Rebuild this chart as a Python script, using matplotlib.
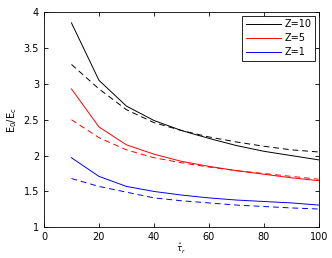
import numpy as np
import matplotlib.pyplot as plt

tau = [10, 20, 30, 40, 50, 60, 70, 80, 90, 100]

z10_solid = [3.85, 3.05, 2.69, 2.49, 2.35, 2.24, 2.14, 2.06, 2.00, 1.94]
z10_dash = [3.27, 2.93, 2.64, 2.46, 2.35, 2.26, 2.19, 2.13, 2.08, 2.05]
z5_solid = [2.93, 2.40, 2.15, 2.02, 1.92, 1.85, 1.79, 1.74, 1.69, 1.65]
z5_dash = [2.50, 2.25, 2.08, 1.97, 1.90, 1.84, 1.79, 1.75, 1.71, 1.67]
z1_solid = [1.97, 1.71, 1.57, 1.50, 1.45, 1.41, 1.38, 1.36, 1.34, 1.31]
z1_dash = [1.68, 1.57, 1.49, 1.41, 1.37, 1.34, 1.31, 1.29, 1.27, 1.255]

fig = plt.figure(figsize=(3.32, 2.58), dpi=100)
ax = fig.add_axes([0.1325, 0.119, 0.8275, 0.834])

ax.plot(tau, z10_solid, color='black', lw=0.7, label='Z=10')
ax.plot(tau, z5_solid, color='red', lw=0.7, label='Z=5')
ax.plot(tau, z1_solid, color='blue', lw=0.7, label='Z=1')
ax.plot(tau, z10_dash, color='black', lw=0.7, dashes=(6, 4))
ax.plot(tau, z5_dash, color='red', lw=0.7, dashes=(6, 4))
ax.plot(tau, z1_dash, color='blue', lw=0.7, dashes=(6, 4))

ax.set_xlim(0, 100)
ax.set_ylim(1, 4)
ax.set_xticks([0, 20, 40, 60, 80, 100])
ax.set_yticks([1, 1.5, 2, 2.5, 3, 3.5, 4])
ax.set_yticklabels(['1', '1.5', '2', '2.5', '3', '3.5', '4'])
ax.tick_params(direction='in', top=True, right=True, labelsize=7, length=3, width=0.6)
for s in ax.spines.values():
    s.set_linewidth(0.6)

ax.set_xlabel(r'$\hat{\tau}_r$', fontsize=6, labelpad=0)
ax.set_ylabel(r'$\mathrm{E_0/E_c}$', fontsize=7, labelpad=3)

leg = ax.legend(loc='upper right', fontsize=7, fancybox=False, framealpha=1,
                edgecolor='black', handlelength=3.6, borderaxespad=0.35,
                labelspacing=0.4, handletextpad=0.4, borderpad=0.4)
leg.get_frame().set_linewidth(0.6)

fig.savefig('out.png', dpi=100)
